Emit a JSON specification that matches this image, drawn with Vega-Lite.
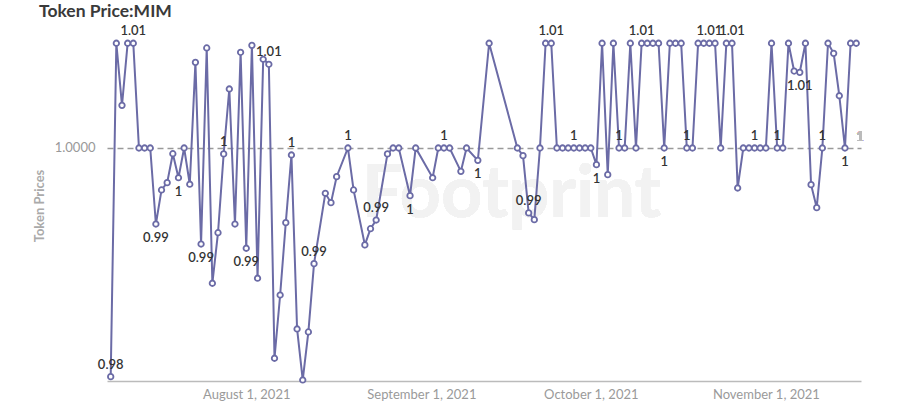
{
  "$schema": "https://vega.github.io/schema/vega-lite/v6.json",
  "width": 754,
  "height": 351,
  "autosize": "none",
  "padding": {"left": 107, "right": 37, "top": 30, "bottom": 36},
  "background": "#ffffff",
  "title": {"text": "Token Price:MIM", "anchor": "start", "frame": "group", "dx": -68, "dy": 22, "fontSize": 17.5, "font": "Lato", "fontWeight": "bold", "color": "#3a3a3a", "baseline": "alphabetic", "offset": 13},
  "config": {"view": {"stroke": null}},
  "data": {"values": [
    {"date": "2021-07-08", "price": 0.9800, "above": "0.98"},
    {"date": "2021-07-09", "price": 1.00916},
    {"date": "2021-07-10", "price": 1.00373},
    {"date": "2021-07-11", "price": 1.00916},
    {"date": "2021-07-12", "price": 1.00916, "above": "1.01"},
    {"date": "2021-07-13", "price": 1.0},
    {"date": "2021-07-14", "price": 1.0},
    {"date": "2021-07-15", "price": 1.0},
    {"date": "2021-07-16", "price": 0.99335, "below": "0.99"},
    {"date": "2021-07-17", "price": 0.99633},
    {"date": "2021-07-18", "price": 0.99697},
    {"date": "2021-07-19", "price": 0.99950},
    {"date": "2021-07-20", "price": 0.99740, "below": "1"},
    {"date": "2021-07-21", "price": 1.0},
    {"date": "2021-07-22", "price": 0.99683},
    {"date": "2021-07-23", "price": 1.00749},
    {"date": "2021-07-24", "price": 0.99160, "below": "0.99"},
    {"date": "2021-07-25", "price": 1.00875},
    {"date": "2021-07-26", "price": 0.98817},
    {"date": "2021-07-27", "price": 0.99259},
    {"date": "2021-07-28", "price": 0.99948, "above": "1"},
    {"date": "2021-07-29", "price": 1.00516},
    {"date": "2021-07-30", "price": 0.99335},
    {"date": "2021-07-31", "price": 1.00837},
    {"date": "2021-08-01", "price": 0.99123, "below": "0.99"},
    {"date": "2021-08-02", "price": 1.00898},
    {"date": "2021-08-03", "price": 0.98861},
    {"date": "2021-08-04", "price": 1.00776},
    {"date": "2021-08-05", "price": 1.00732, "above": "1.01"},
    {"date": "2021-08-06", "price": 0.98161},
    {"date": "2021-08-07", "price": 0.98714},
    {"date": "2021-08-08", "price": 0.99347},
    {"date": "2021-08-09", "price": 0.99939, "above": "1"},
    {"date": "2021-08-10", "price": 0.98417},
    {"date": "2021-08-11", "price": 0.97971},
    {"date": "2021-08-12", "price": 0.98391},
    {"date": "2021-08-13", "price": 0.98988, "above": "0.99"},
    {"date": "2021-08-15", "price": 0.99604},
    {"date": "2021-08-16", "price": 0.99522},
    {"date": "2021-08-17", "price": 0.99749},
    {"date": "2021-08-19", "price": 1.0, "above": "1"},
    {"date": "2021-08-20", "price": 0.99633},
    {"date": "2021-08-22", "price": 0.99152},
    {"date": "2021-08-23", "price": 0.99294},
    {"date": "2021-08-24", "price": 0.99370, "above": "0.99"},
    {"date": "2021-08-26", "price": 0.99948},
    {"date": "2021-08-27", "price": 1.0},
    {"date": "2021-08-28", "price": 1.0},
    {"date": "2021-08-30", "price": 0.99583, "below": "1"},
    {"date": "2021-08-31", "price": 1.0},
    {"date": "2021-09-03", "price": 0.99740},
    {"date": "2021-09-04", "price": 1.0},
    {"date": "2021-09-05", "price": 1.0, "above": "1"},
    {"date": "2021-09-06", "price": 1.0},
    {"date": "2021-09-08", "price": 0.99796},
    {"date": "2021-09-09", "price": 1.0},
    {"date": "2021-09-11", "price": 0.99892, "below": "1"},
    {"date": "2021-09-13", "price": 1.00916},
    {"date": "2021-09-18", "price": 1.0},
    {"date": "2021-09-19", "price": 0.99933},
    {"date": "2021-09-20", "price": 0.99432, "above": "0.99"},
    {"date": "2021-09-21", "price": 0.99373},
    {"date": "2021-09-22", "price": 1.0},
    {"date": "2021-09-23", "price": 1.00916},
    {"date": "2021-09-24", "price": 1.00916, "above": "1.01"},
    {"date": "2021-09-25", "price": 1.0},
    {"date": "2021-09-26", "price": 1.0},
    {"date": "2021-09-27", "price": 1.0},
    {"date": "2021-09-28", "price": 1.0, "above": "1"},
    {"date": "2021-09-29", "price": 1.0},
    {"date": "2021-09-30", "price": 1.0},
    {"date": "2021-10-01", "price": 1.0},
    {"date": "2021-10-02", "price": 0.99854, "below": "1"},
    {"date": "2021-10-03", "price": 1.00916},
    {"date": "2021-10-04", "price": 0.99767},
    {"date": "2021-10-05", "price": 1.00916},
    {"date": "2021-10-06", "price": 1.0, "above": "1"},
    {"date": "2021-10-07", "price": 1.0},
    {"date": "2021-10-08", "price": 1.00916},
    {"date": "2021-10-09", "price": 1.0},
    {"date": "2021-10-10", "price": 1.00916, "above": "1.01"},
    {"date": "2021-10-11", "price": 1.00916},
    {"date": "2021-10-12", "price": 1.00916},
    {"date": "2021-10-13", "price": 1.00916},
    {"date": "2021-10-14", "price": 1.0, "below": "1"},
    {"date": "2021-10-15", "price": 1.00916},
    {"date": "2021-10-16", "price": 1.00916},
    {"date": "2021-10-17", "price": 1.00916},
    {"date": "2021-10-18", "price": 1.0, "above": "1"},
    {"date": "2021-10-19", "price": 1.0},
    {"date": "2021-10-20", "price": 1.00916},
    {"date": "2021-10-21", "price": 1.00916},
    {"date": "2021-10-22", "price": 1.00916, "above": "1.01"},
    {"date": "2021-10-23", "price": 1.00916},
    {"date": "2021-10-24", "price": 1.0},
    {"date": "2021-10-25", "price": 1.00916},
    {"date": "2021-10-26", "price": 1.00916, "above": "1.01"},
    {"date": "2021-10-27", "price": 0.99650},
    {"date": "2021-10-28", "price": 1.0},
    {"date": "2021-10-29", "price": 1.0},
    {"date": "2021-10-30", "price": 1.0, "above": "1"},
    {"date": "2021-10-31", "price": 1.0},
    {"date": "2021-11-01", "price": 1.0},
    {"date": "2021-11-02", "price": 1.00916},
    {"date": "2021-11-03", "price": 1.0, "above": "1"},
    {"date": "2021-11-04", "price": 1.0},
    {"date": "2021-11-05", "price": 1.00916},
    {"date": "2021-11-06", "price": 1.00673},
    {"date": "2021-11-07", "price": 1.00662, "below": "1.01"},
    {"date": "2021-11-08", "price": 1.00916},
    {"date": "2021-11-09", "price": 0.99679},
    {"date": "2021-11-10", "price": 0.99478},
    {"date": "2021-11-11", "price": 1.0, "above": "1"},
    {"date": "2021-11-12", "price": 1.00916},
    {"date": "2021-11-13", "price": 1.00828},
    {"date": "2021-11-14", "price": 1.00457},
    {"date": "2021-11-15", "price": 1.0, "below": "1"},
    {"date": "2021-11-16", "price": 1.00916},
    {"date": "2021-11-17", "price": 1.00916}
  ]},
  "encoding": {
    "x": {
      "field": "date", "type": "temporal",
      "scale": {"type": "utc", "domain": [
        {"year": 2021, "month": 7, "date": 7, "hours": 8, "minutes": 17, "utc": true},
        {"year": 2021, "month": 11, "date": 17, "hours": 20, "minutes": 10, "utc": true}
      ]},
      "axis": {
        "title": null,
        "values": [
          {"year": 2021, "month": 8, "date": 1, "utc": true},
          {"year": 2021, "month": 9, "date": 1, "utc": true},
          {"year": 2021, "month": 10, "date": 1, "utc": true},
          {"year": 2021, "month": 11, "date": 1, "utc": true}
        ],
        "format": "%B %-d, %Y",
        "grid": false, "ticks": false, "tickSize": 0,
        "labelPadding": 7, "labelColor": "#9a9a9a", "labelFontSize": 13, "labelFont": "Lato",
        "domainColor": "#bbbbbb", "domainWidth": 1.5
      }
    },
    "y": {
      "field": "price", "type": "quantitative",
      "scale": {"domain": [0.97962, 1.01032], "nice": false, "zero": false},
      "axis": {
        "title": "Token Prices",
        "values": [1], "format": ".4f",
        "grid": true, "gridDash": [6, 4], "gridColor": "#9a9a9a", "gridWidth": 1.5,
        "domain": false, "ticks": false, "tickSize": 0,
        "labelPadding": 12, "labelColor": "#999999", "labelFontSize": 13, "labelFont": "Lato",
        "titleColor": "#aaaaaa", "titleFontSize": 13, "titleFont": "Lato", "titleFontWeight": "bold", "titlePadding": 8
      }
    }
  },
  "layer": [
    {
      "mark": {"type": "text", "text": "Footprint", "font": "Lato", "fontSize": 72, "fontWeight": "bold", "color": "#f2f2f2", "align": "center", "baseline": "alphabetic"},
      "encoding": {
        "x": {"datum": {"year": 2021, "month": 9, "date": 17, "utc": true}, "type": "temporal"},
        "y": {"datum": 0.99397, "type": "quantitative"}
      }
    },
    {
      "mark": {"type": "line", "color": "#6b6ba6", "strokeWidth": 2}
    },
    {
      "mark": {"type": "point", "shape": "circle", "filled": true, "fill": "#ffffff", "stroke": "#6b6ba6", "strokeWidth": 1.8, "size": 30, "opacity": 1}
    },
    {
      "transform": [{"filter": "isValid(datum.above)"}],
      "mark": {"type": "text", "font": "Lato", "fontSize": 13, "fontWeight": 600, "color": "#333333", "baseline": "bottom", "dy": -5},
      "encoding": {"text": {"field": "above"}}
    },
    {
      "transform": [{"filter": "isValid(datum.below)"}],
      "mark": {"type": "text", "font": "Lato", "fontSize": 13, "fontWeight": 600, "color": "#333333", "baseline": "top", "dy": 8},
      "encoding": {"text": {"field": "below"}}
    },
    {
      "mark": {"type": "text", "text": "1", "font": "Lato", "fontSize": 13, "fontWeight": 600, "color": "#bbbbbb", "baseline": "bottom", "align": "left", "dx": 0, "dy": -4},
      "encoding": {
        "x": {"datum": {"year": 2021, "month": 11, "date": 17, "utc": true}, "type": "temporal"},
        "y": {"datum": 1, "type": "quantitative"}
      }
    }
  ]
}
